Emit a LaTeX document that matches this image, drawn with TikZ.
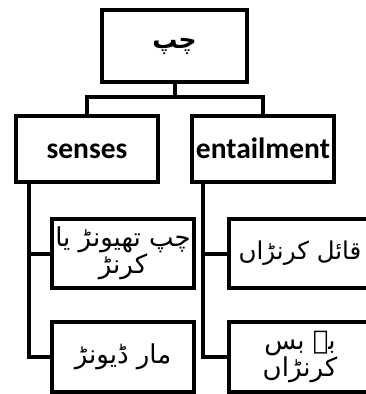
\documentclass[tikz,border=0pt]{standalone}
\usepackage{fontspec}
\setmainfont{Carlito}
\newfontfamily\urfont[Script=Arabic]{DejaVu Sans}
\TeXXeTstate=1
\begin{document}
\begin{tikzpicture}[x=1pt,y=-1pt,
  box/.style={draw=black,line width=4pt,fill=white,inner sep=0pt,outer sep=0pt,minimum width=142pt,align=center},
  conn/.style={draw=black,line width=4pt,line join=miter},
  entxt/.style={font=\fontsize{29.5}{32}\selectfont\bfseries,text height=22pt,text depth=4pt},
  urtxt/.style={font=\urfont\fontsize{26}{25}\selectfont},
]
\useasboundingbox (0,0) rectangle (366,394);
\clip (0,0) rectangle (366,394);
\node[box,minimum width=145pt,minimum height=72pt,font=\urfont\bfseries\fontsize{25}{30}\selectfont] (top) at (174.5,46) {\beginR چپ\endR};
\node[box,minimum height=66pt,entxt] (senses) at (87,149) {senses};
\node[box,minimum height=66pt,entxt] (ent) at (263,149) {entailment};
\node[box,minimum height=69pt,urtxt] (c1) at (123,253.5) {\beginR چپ تھیونڑ یا\endR\\\beginR کرنڑ\endR};
\node[box,minimum height=70pt,urtxt] (c2) at (123,357) {\beginR مار ڈیونڑ\endR};
\node[box,minimum height=69pt,font=\urfont\fontsize{24.5}{25}\selectfont] (d1) at (300,253.5) {\beginR قائل کرنڑاں\endR};
\node[box,minimum height=70pt,urtxt] (d2) at (300,357) {\beginR بے بس\endR\\\beginR کرنڑاں\endR};
\coordinate (j) at (174.5,97);
\coordinate (ls) at (29,0);
\coordinate (rs) at (203,0);
\draw[conn] (top.south) -- (j);
\draw[conn] (senses.north) |- (j) -| (ent.north);
\draw[conn] (senses.south -| ls) |- (c2.west);
\draw[conn] (ls |- c1.west) -- (c1.west);
\draw[conn] (ent.south -| rs) |- (d2.west);
\draw[conn] (rs |- d1.west) -- (d1.west);
\end{tikzpicture}
\end{document}
